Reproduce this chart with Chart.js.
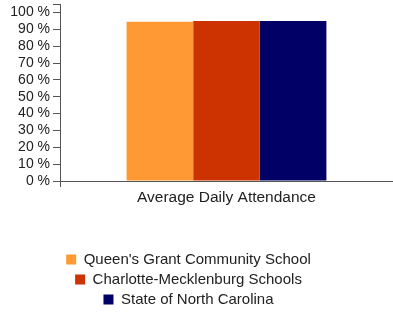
<!DOCTYPE html>
<html>
<head>
<meta charset="utf-8">
<script src="https://cdn.jsdelivr.net/npm/chart.js@4/dist/chart.umd.min.js"></script>
<style>
  html, body { margin: 0; padding: 0; background: #fff; }
</style>
</head>
<body>
<canvas id="myChart" width="393" height="315"></canvas>
<script>
const categories = ['Average Daily Attendance'];
const schools = ["Queen's Grant Community School", 'Charlotte-Mecklenburg Schools', 'State of North Carolina'];
const attendance = [94.4, 94.9, 94.9];
const colors = ['#FF9933', '#CC3300', '#000066'];
const yTicks = [0, 10, 20, 30, 40, 50, 60, 70, 80, 90, 100];

const FONT = 'Liberation Sans, Arial, sans-serif';
const axisColor = '#555';

// nudge the legend a bit left/down, like the original
const legendShift = {
  id: 'legendShift',
  afterLayout(chart) {
    const l = chart.legend;
    l.right -= 16;
    l.top += 2;
    l.bottom += 2;
  }
};

const ctx = document.getElementById('myChart');
const myChart = new Chart(ctx, {
  type: 'bar',
  data: {
    labels: categories,
    datasets: schools.map((name, i) => ({
      label: name,
      data: [attendance[i]],
      backgroundColor: colors[i],
      borderWidth: 0
    }))
  },
  options: {
    responsive: false,
    animation: false,
    devicePixelRatio: 1,
    categoryPercentage: 0.6,
    barPercentage: 1.0,
    layout: { padding: { top: 4, left: 0, right: 0, bottom: 0 } },
    plugins: {
      tooltip: { enabled: false },
      legend: {
        position: 'bottom',
        labels: {
          boxWidth: 10,
          boxHeight: 10,
          padding: 5,
          color: '#222',
          font: { family: FONT, size: 15 }
        }
      }
    },
    scales: {
      x: {
        grid: { drawOnChartArea: false, tickLength: 6, color: axisColor },
        border: { color: axisColor },
        ticks: { color: '#222', padding: 1, font: { family: FONT, size: 15.5 } },
        afterFit(scale) { scale.height = 64; }
      },
      y: {
        min: 0,
        max: 105,
        afterBuildTicks(scale) {
          scale.ticks = yTicks.concat([105]).map(v => ({ value: v }));
        },
        grid: { drawOnChartArea: false, tickLength: 7, color: axisColor },
        border: { color: axisColor },
        ticks: {
          autoSkip: false,
          color: '#222',
          padding: 3,
          font: { family: FONT, size: 14 },
          callback: v => (yTicks.includes(v) ? v + ' %' : '')
        },
        afterFit(scale) {
          scale.width = 60;
          scale.paddingTop = 0;
          scale.paddingBottom = 0;
        }
      }
    }
  },
  plugins: [legendShift]
});
</script>
</body>
</html>
